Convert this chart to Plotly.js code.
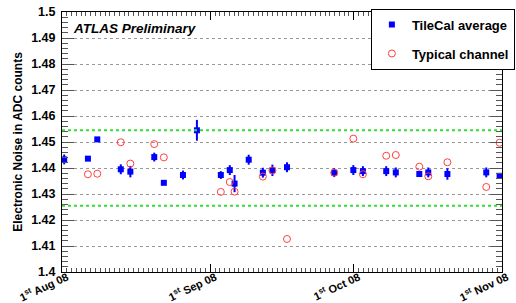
<!DOCTYPE html>
<html>
<head>
<meta charset="utf-8">
<script src="https://cdn.plot.ly/plotly-3.0.1.min.js"></script>
<style>html,body{margin:0;padding:0;background:#fff;}#chart{width:516px;height:303px;}</style>
</head>
<body>
<div id="chart"></div>
<script>
// Measurement dates
var dates = ["2008-08-01 11:00","2008-08-06 10:00","2008-08-08 09:00","2008-08-13 07:00","2008-08-15 07:00",
  "2008-08-20 07:00","2008-08-22 07:00","2008-08-26 07:00","2008-08-29 05:00","2008-09-03 05:00",
  "2008-09-05 02:00","2008-09-06 02:00","2008-09-09 01:00","2008-09-12 00:00","2008-09-14 00:00",
  "2008-09-17 01:00","2008-09-26 22:00","2008-09-30 22:00","2008-10-02 22:00","2008-10-07 19:00",
  "2008-10-09 19:00","2008-10-14 17:00","2008-10-16 14:00","2008-10-20 14:00","2008-10-28 17:00",
  "2008-10-31 12:00"];
// TileCal average noise and its error
var tilecalAvg = [1.4433,1.4436,1.4510,1.4395,1.4386,1.4442,1.4343,1.4373,1.4545,1.4373,
  1.4392,1.4340,1.4432,1.4382,1.4391,1.4403,1.4382,1.4392,1.4388,1.4388,
  1.4383,1.4377,1.4383,1.4377,1.4383,1.4370];
var tilecalErr = [0.0019,0.0008,0.0008,0.0019,0.0022,0.0017,0.0008,0.0017,0.0040,0.0015,
  0.0019,0.0033,0.0019,0.0019,0.0022,0.0019,0.0017,0.0019,0.0019,0.0019,
  0.0019,0.0010,0.0019,0.0022,0.0019,0.0010];
// Typical channel noise
var typicalChannel = [null,1.4376,1.4378,1.4499,1.4417,1.4492,1.4441,null,null,1.4308,
  1.4346,1.4309,null,1.4367,1.4391,1.4127,1.4382,1.4513,1.4376,1.4447,
  1.4450,1.4405,1.4368,1.4422,1.4327,1.4497];
// +-1% band around 1.44
var bandLimits = [1.4545, 1.4255];
// Axis ticks
var xTickVals = ["2008-08-01","2008-09-01","2008-10-01","2008-11-01"];
var xTickText = ["1<sup>st</sup> Aug 08","1<sup>st</sup> Sep 08","1<sup>st</sup> Oct 08","1<sup>st</sup> Nov 08"];
var yTickVals = [1.4,1.41,1.42,1.43,1.44,1.45,1.46,1.47,1.48,1.49,1.5];
var yTickText = ["1.4","1.41","1.42","1.43","1.44","1.45","1.46","1.47","1.48","1.49","1.5"];

var FONT = "Liberation Sans, Arial, Helvetica, sans-serif";

var traces = [
  {
    type: "scatter", mode: "markers", name: "TileCal average",
    x: dates, y: tilecalAvg, legendgroup: "a",
    marker: {symbol: "square", size: 6, color: "#0000ff"},
    error_y: {type: "data", array: tilecalErr, visible: true, color: "#0000ff", thickness: 2, width: 0}
  },
  {
    type: "scatter", mode: "markers", name: "Typical channel",
    x: dates, y: typicalChannel, legendgroup: "b",
    marker: {symbol: "circle-open", size: 7, color: "#ff4040", line: {width: 1, color: "#ff4040"}}
  }
];

var shapes = bandLimits.map(function (v) {
  return {type: "line", xref: "paper", x0: 0, x1: 1, yref: "y", y0: v, y1: v,
          line: {color: "#33dd33", width: 2, dash: "dot"}, layer: "above"};
});

var layout = {
  width: 516, height: 303,
  margin: {l: 62, r: 1, t: 12, b: 31},
  paper_bgcolor: "#fff", plot_bgcolor: "#fff",
  font: {family: FONT, color: "#000"},
  showlegend: true,
  legend: {
    x: 0.702, y: 1.013, xanchor: "left", yanchor: "top",
    bgcolor: "#fff", bordercolor: "#000", borderwidth: 1,
    font: {family: FONT, size: 13, weight: "bold", color: "#000"},
    traceorder: "grouped", tracegroupgap: 9, itemwidth: 30
  },
  xaxis: {
    type: "date", range: ["2008-08-01", "2008-11-01"],
    tickmode: "array", tickvals: xTickVals, ticktext: xTickText,
    tickangle: -25, tickfont: {family: FONT, size: 11, weight: "bold"},
    ticks: "inside", ticklen: 8, tickcolor: "#000",
    ticklabelstandoff: -6, ticklabelshift: 5,
    minor: {tickmode: "linear", tick0: "2008-08-01", dtick: 86400000, ticks: "inside", ticklen: 4, tickcolor: "#555", showgrid: false},
    showgrid: false, zeroline: false,
    showline: true, linecolor: "#000", linewidth: 1, mirror: "ticks"
  },
  yaxis: {
    range: [1.4, 1.5],
    tickmode: "array", tickvals: yTickVals, ticktext: yTickText,
    tickfont: {family: FONT, size: 12.5, weight: "bold"},
    ticks: "inside", ticklen: 12, tickcolor: "#555",
    ticklabelstandoff: 3,
    minor: {tickmode: "linear", tick0: 1.4, dtick: 0.002, ticks: "inside", ticklen: 6, tickcolor: "#555", showgrid: false},
    showgrid: true, gridcolor: "#999", griddash: "dot", gridwidth: 1,
    zeroline: false,
    showline: true, linecolor: "#000", linewidth: 1, mirror: "ticks",
    title: {text: "Electronic Noise in ADC counts", font: {family: FONT, size: 12, weight: "bold"}, standoff: 5}
  },
  shapes: shapes,
  annotations: [{
    text: "<b><i>ATLAS Preliminary</i></b>", xref: "paper", yref: "paper",
    x: 0.02, y: 0.935, xanchor: "left", yanchor: "middle", showarrow: false,
    font: {family: FONT, size: 13.5, color: "#000"}
  }]
};

Plotly.newPlot("chart", traces, layout, {displayModeBar: false, staticPlot: true});
</script>
</body>
</html>
